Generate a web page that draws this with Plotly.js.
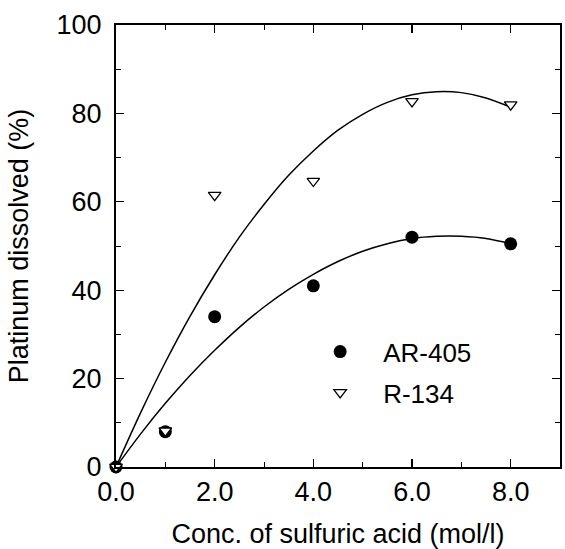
<!DOCTYPE html>
<html>
<head>
<meta charset="utf-8">
<script src="https://cdn.plot.ly/plotly-3.0.1.min.js"></script>
<style>html,body{margin:0;padding:0;background:#fff;}#chart{width:565px;height:549px;}</style>
</head>
<body>
<div id="chart"></div>
<script>
// Measured data
var conc = [0, 1, 2, 4, 6, 8];
var ar405 = [0, 8, 34, 41, 52, 50.5];
var r134 = [0, 8.2, 61.5, 64.7, 82.7, 82];

// Fitted curves
var fitX = [0, 0.5, 1, 1.5, 2, 2.5, 3, 3.5, 4, 4.5, 5, 5.5, 6, 6.5, 7, 7.5, 8];
var fitAR405 = [0, 7.5, 14.4, 20.7, 26.4, 31.6, 36.2, 40.2, 43.6, 46.5, 48.8, 50.5, 51.7, 52.2, 52.2, 51.7, 50.5];
var fitR134 = [0, 12.3, 23.7, 34.1, 43.5, 52.0, 59.4, 66.0, 71.5, 76.2, 79.8, 82.5, 84.2, 84.9, 84.7, 83.5, 81.4];

var xTickVals = [0, 2, 4, 6, 8];
var xTickText = ['0.0', '2.0', '4.0', '6.0', '8.0'];
var yTickVals = [0, 20, 40, 60, 80, 100];

var FONT = 'Liberation Sans, Arial, sans-serif';

var traces = [
  {x: fitX, y: fitR134, mode: 'lines', line: {color: '#000', width: 1.5, shape: 'spline'}, showlegend: false, hoverinfo: 'skip'},
  {x: fitX, y: fitAR405, mode: 'lines', line: {color: '#000', width: 1.5, shape: 'spline'}, showlegend: false, hoverinfo: 'skip'},
  {x: conc, y: ar405, mode: 'markers', name: 'AR-405', legendgroup: 'a',
   marker: {symbol: 'circle', size: 13, color: '#000'}, cliponaxis: false},
  {x: conc, y: r134, mode: 'markers', name: 'R-134', legendgroup: 'b',
   marker: {symbol: 'triangle-down', size: 11, color: '#fff', line: {color: '#000', width: 1.3}}, cliponaxis: false}
];

var axisCommon = {
  showline: true, linecolor: '#000', linewidth: 2, mirror: 'allticks',
  ticks: 'inside', ticklen: 8, tickwidth: 1.3, tickcolor: '#000',
  showgrid: false, zeroline: false,
  tickfont: {family: FONT, size: 27, color: '#000'}
};

var layout = {
  width: 565, height: 549,
  margin: {l: 116, r: 5, t: 25, b: 82},
  paper_bgcolor: '#fff', plot_bgcolor: '#fff',
  showlegend: true,
  legend: {
    x: 0.408, y: 0.314, xanchor: 'left', yanchor: 'top',
    bgcolor: 'rgba(0,0,0,0)', borderwidth: 0,
    font: {family: FONT, size: 26, color: '#000'},
    tracegroupgap: 4, itemwidth: 76
  },
  xaxis: Object.assign({}, axisCommon, {
    range: [0, 9], tickvals: xTickVals, ticktext: xTickText,
    minor: {dtick: 1, tick0: 0, ticks: 'inside', ticklen: 5, tickcolor: '#000', tickwidth: 1},
    title: {text: 'Conc. of sulfuric acid (mol/l)', font: {family: FONT, size: 27, color: '#000'}, standoff: 18}
  }),
  yaxis: Object.assign({}, axisCommon, {
    range: [0, 100], tickvals: yTickVals, ticklabelstandoff: 7,
    minor: {dtick: 10, tick0: 0, ticks: 'inside', ticklen: 5, tickcolor: '#000', tickwidth: 1},
    title: {text: 'Platinum dissolved (%)', font: {family: FONT, size: 27, color: '#000'}, standoff: 20}
  })
};

Plotly.newPlot('chart', traces, layout, {displayModeBar: false, staticPlot: true});
</script>
</body>
</html>
